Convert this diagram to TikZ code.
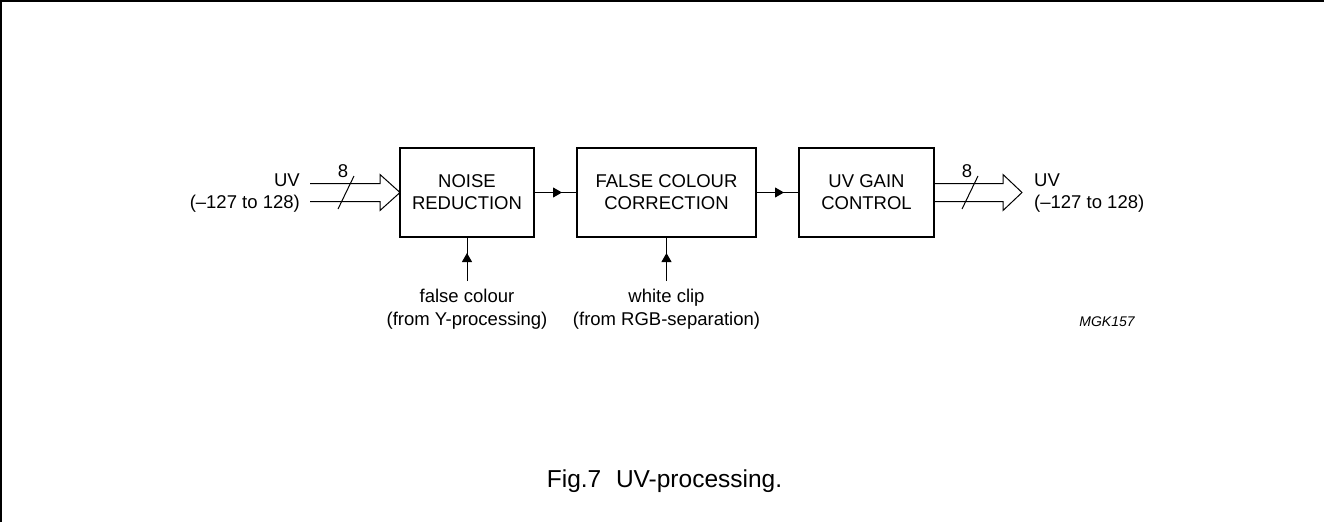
\documentclass[tikz,border=0pt]{standalone}
\usepackage{fontspec}
\setmainfont{Liberation Sans}
\usetikzlibrary{arrows.meta,decorations.markings,calc}
\begin{document}
\begin{tikzpicture}[x=1pt,y=-1pt,
  blockbox/.style={draw,line width=2pt,rectangle,minimum height=89pt,inner sep=0pt,outer sep=0pt,align=center,font=\fontsize{18.5}{22}\selectfont},
  lbl/.style={inner sep=0pt,font=\fontsize{18.5}{22}\selectfont},
  conn/.style={line width=1pt},
  midarrow/.style={conn,decoration={markings,mark=at position 28pt with {\arrow{Triangle[length=9pt,width=10pt]}}},postaction={decorate}}]
\useasboundingbox (0,0) rectangle (1324,522);
% frame (left and top only)
\draw[line width=1.5pt] (1.2,522) -- (1.2,1.2) -- (1324,1.2);
% blocks
\node[blockbox,minimum width=134pt] (nr) at (467,192.5) {NOISE\\REDUCTION};
\node[blockbox,minimum width=179pt] (fc) at (666.5,192.5) {FALSE COLOUR\\CORRECTION};
\node[blockbox,minimum width=135pt] (gc) at (866.5,192.5) {UV GAIN\\CONTROL};
% connectors between blocks
\draw[midarrow] (nr.east) -- (fc.west);
\draw[midarrow] (fc.east) -- (gc.west);
% input bus
\draw[conn,line join=miter] ($(nr.west)+(-90,-9)$) -- ++(70,0) -- ++(0,-9) -- (nr.west) -- ++(-20,18) -- ++(0,-9) -- ++(-70,0);
\coordinate (sl1a) at (338,209);
\coordinate (sl1b) at (354,176);
\draw[conn] (sl1a) -- (sl1b);
\node[lbl] (n8in) at (343,171) {8};
\node[lbl,anchor=east,align=right] (uvin) at (300,193) {UV\\(–127 to 128)};
% output bus
\coordinate (uvtip) at ($(gc.east)+(88,0)$);
\draw[conn,line join=miter] ($(gc.east)+(0,-9)$) -- ++(69,0) -- ++(0,-9) -- (uvtip) -- ++(-19,18) -- ++(0,-9) -- ++(-69,0);
\coordinate (sl2a) at (962,209);
\coordinate (sl2b) at (978,176);
\draw[conn] (sl2a) -- (sl2b);
\node[lbl] (n8out) at (967,171) {8};
\node[lbl,anchor=west,align=left] (uvout) at (1034,193) {UV\\(–127 to 128)};
% side inputs
\coordinate (fcsrc) at (467,281);
\coordinate (wcsrc) at (666.5,281);
\draw[midarrow] (fcsrc) -- (nr.south);
\draw[midarrow] (wcsrc) -- (fc.south);
\node[lbl,align=center,font=\fontsize{18.5}{23.5}\selectfont] (fctext) at (467,309) {false colour\\(from Y-processing)};
\node[lbl,align=center,font=\fontsize{18.5}{23.5}\selectfont] (wctext) at (666.5,309) {white clip\\(from RGB-separation)};
% code
\node[lbl,font=\fontsize{14}{16}\selectfont\itshape] (code) at (1107,322) {MGK157};
% caption
\node[lbl,font=\fontsize{24.5}{28}\selectfont] (cap) at (664.5,481) {Fig.7\hspace{0.6em}UV-processing.};
\end{tikzpicture}
\end{document}
